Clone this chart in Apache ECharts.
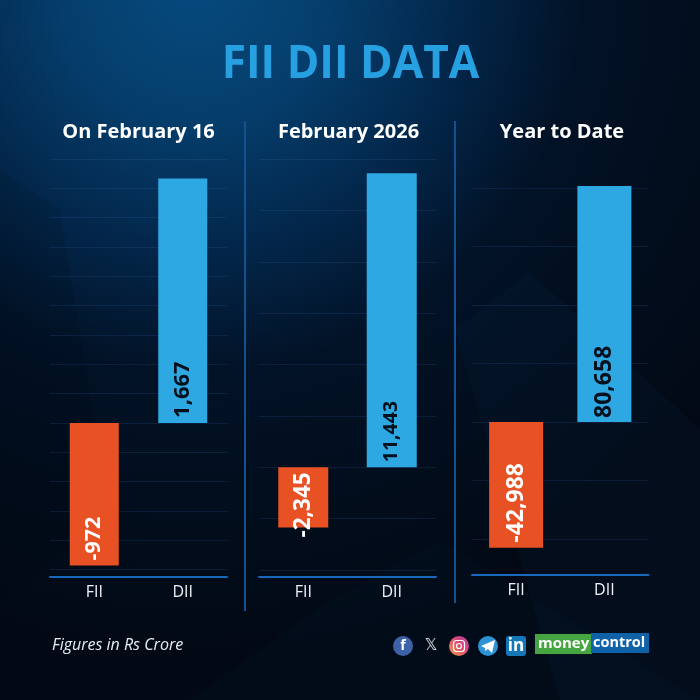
<!DOCTYPE html>
<html><head><meta charset="utf-8">
<style>html,body{margin:0;padding:0;background:#020b1a}#c{width:700px;height:700px}</style>
<script src="https://cdn.jsdelivr.net/npm/echarts@6/dist/echarts.min.js"></script>
</head><body><div id="c"></div>
<script>
const categories = ['FII', 'DII'];
const panelTitles = ['On February 16', 'February 2026', 'Year to Date'];
const dailyValues = [-972, 1667];
const monthValues = [-2345, 11443];
const ytdValues = [-42988, 80658];
const FONT = '"Open Sans", "Noto Sans", sans-serif';
const ORANGE = '#e85123', BLUE = '#2ea8e2';

const panels = [
  {values: dailyValues, left: 50, right: 227, top: 159, bottom: 569.5, min: -1000, max: 1800, interval: 200, barWidth: 49, offset: 7.5, titleX: 138.5, labelSizes: [21.5, 22], labelDist: [5, 5]},
  {values: monthValues, left: 259, right: 436, top: 159, bottom: 570, min: -4000, max: 12000, interval: 2000, barWidth: 50, offset: 7, titleX: 348.5, labelSizes: [22.5, 19.5], labelDist: [-10, 5]},
  {values: ytdValues, left: 472, right: 648.5, top: 129.5, bottom: 597.5, min: -60000, max: 100000, interval: 20000, barWidth: 54, offset: -22.5, titleX: 562, labelSizes: [23, 23], labelDist: [5, 4]}
];

const fmt = v => (v < 0 ? '-' : '') + Math.abs(v).toLocaleString('en-US');
const chart = echarts.init(document.getElementById('c'), null, {renderer: 'canvas'});

const bgGraphics = [
  {type: 'rect', z: -10, shape: {x: 0, y: 0, width: 700, height: 700},
   style: {fill: new echarts.graphic.RadialGradient(0.28, -0.02, 0.95, [
     {offset: 0, color: '#064a7e'}, {offset: 0.2, color: '#053e6c'}, {offset: 0.4, color: '#03264a'},
     {offset: 0.58, color: '#021226'}, {offset: 1, color: '#020914'}])}},
  {type: 'polygon', z: -9, shape: {points: [[0, 170], [60, 210], [110, 520], [0, 600]]},
   style: {fill: 'rgba(0,0,0,0.08)'}},
  {type: 'polygon', z: -9, shape: {points: [[455, 330], [530, 272], [700, 430], [700, 700], [560, 700]]},
   style: {fill: 'rgba(12,40,70,0.16)'}},
  {type: 'polygon', z: -9, shape: {points: [[190, 700], [330, 600], [440, 540], [700, 700]]},
   style: {fill: 'rgba(10,34,60,0.14)'}},
  {type: 'line', z: 1, shape: {x1: 245, y1: 121, x2: 245, y2: 611}, style: {stroke: '#14528f', lineWidth: 2}},
  {type: 'line', z: 1, shape: {x1: 455, y1: 121, x2: 455, y2: 603}, style: {stroke: '#14528f', lineWidth: 2}},
  {type: 'text', z: 5, x: 350.5, y: 65, scaleX: 0.94,
   style: {x: 0, y: 0, text: 'FII DII DATA', font: '700 47px ' + FONT, fill: '#27a0e2', align: 'center', verticalAlign: 'middle'}},
  {type: 'text', z: 5, style: {x: 52, y: 645, text: 'Figures in Rs Crore', font: 'italic 400 16px ' + FONT, fill: '#e8eef4', align: 'left', verticalAlign: 'middle'}}
];

const iconGraphics = [
  {type: 'circle', shape: {cx: 403, cy: 646, r: 10}, style: {fill: '#3d62a8'}},
  {type: 'text', style: {x: 403, y: 646, text: 'f', font: '700 14px ' + FONT, fill: '#fff', align: 'center', verticalAlign: 'middle'}},
  {type: 'text', style: {x: 431, y: 646, text: '𝕏', font: '700 15px "DejaVu Sans"', fill: '#c4c8cc', align: 'center', verticalAlign: 'middle'}},
  {type: 'circle', shape: {cx: 459, cy: 646, r: 10},
   style: {fill: new echarts.graphic.LinearGradient(0, 1, 1, 0, [{offset: 0, color: '#f0a040'}, {offset: 0.6, color: '#d8457a'}, {offset: 1, color: '#a845a8'}])}},
  {type: 'rect', shape: {x: 453.5, y: 640.5, width: 11, height: 11, r: 3}, style: {fill: 'none', stroke: '#fff', lineWidth: 1.2}},
  {type: 'circle', shape: {cx: 459, cy: 646, r: 2.5}, style: {fill: 'none', stroke: '#fff', lineWidth: 1.2}},
  {type: 'circle', shape: {cx: 488, cy: 646, r: 10}, style: {fill: '#2e93d4'}},
  {type: 'polygon', shape: {points: [[481, 646], [495, 640], [492, 653], [488, 649], [485, 651], [485, 648]]}, style: {fill: '#fff'}},
  {type: 'rect', shape: {x: 506, y: 636, width: 20, height: 20, r: 3}, style: {fill: '#1478b8'}},
  {type: 'text', style: {x: 516, y: 646, text: 'in', font: '700 17px ' + FONT, fill: '#fff', align: 'center', verticalAlign: 'middle'}},
  {type: 'rect', shape: {x: 535, y: 634, width: 57, height: 20}, style: {fill: '#45a541'}},
  {type: 'rect', shape: {x: 591, y: 633, width: 58, height: 20}, style: {fill: '#0f62a8'}},
  {type: 'text', style: {x: 538, y: 643.5, text: 'money', font: '700 15px ' + FONT, fill: '#fff', align: 'left', verticalAlign: 'middle'}},
  {type: 'text', style: {x: 593, y: 643, text: 'control', font: '700 14.5px ' + FONT, fill: '#fff', align: 'left', verticalAlign: 'middle'}}
].map(g => Object.assign({z: 6}, g));

const titleGraphics = panels.map((p, i) => ({type: 'text', z: 5,
  style: {x: p.titleX, y: 132, text: panelTitles[i], font: '700 20px ' + FONT, fill: '#ffffff', align: 'center', verticalAlign: 'middle'}}));

chart.setOption({
  animation: false,
  backgroundColor: 'transparent',
  graphic: {elements: [...bgGraphics, ...titleGraphics, ...iconGraphics]},
  grid: panels.map(p => ({left: p.left, width: p.right - p.left, top: p.top, height: p.bottom - p.top, containLabel: false})),
  xAxis: panels.map((p, i) => ({
    type: 'category', gridIndex: i, data: categories, position: 'bottom', offset: p.offset,
    axisLine: {onZero: false, lineStyle: {color: '#1669bd', width: 2}},
    axisTick: {show: false}, splitLine: {show: false},
    axisLabel: {color: '#eef2f6', fontFamily: FONT, fontSize: 16, margin: 7}
  })),
  yAxis: panels.map((p, i) => ({
    type: 'value', gridIndex: i, min: p.min, max: p.max, interval: p.interval,
    axisLine: {show: false}, axisTick: {show: false}, axisLabel: {show: false},
    splitLine: {show: true, showMinLine: i !== 2, showMaxLine: i !== 2, lineStyle: {color: 'rgba(60,120,190,0.16)', width: 1}}
  })),
  series: panels.map((p, i) => ({
    type: 'bar', xAxisIndex: i, yAxisIndex: i, barWidth: p.barWidth,
    data: p.values.map((v, k) => ({
      value: v,
      itemStyle: {color: v < 0 ? ORANGE : BLUE},
      label: {color: v < 0 ? '#ffffff' : '#06101c', fontSize: p.labelSizes[k], distance: p.labelDist[k]}
    })),
    label: {
      show: true, position: 'insideBottom', rotate: 90, align: 'left', verticalAlign: 'middle',
      fontFamily: FONT, fontWeight: 700,
      formatter: o => fmt(o.value)
    }
  }))
});
</script></body></html>
